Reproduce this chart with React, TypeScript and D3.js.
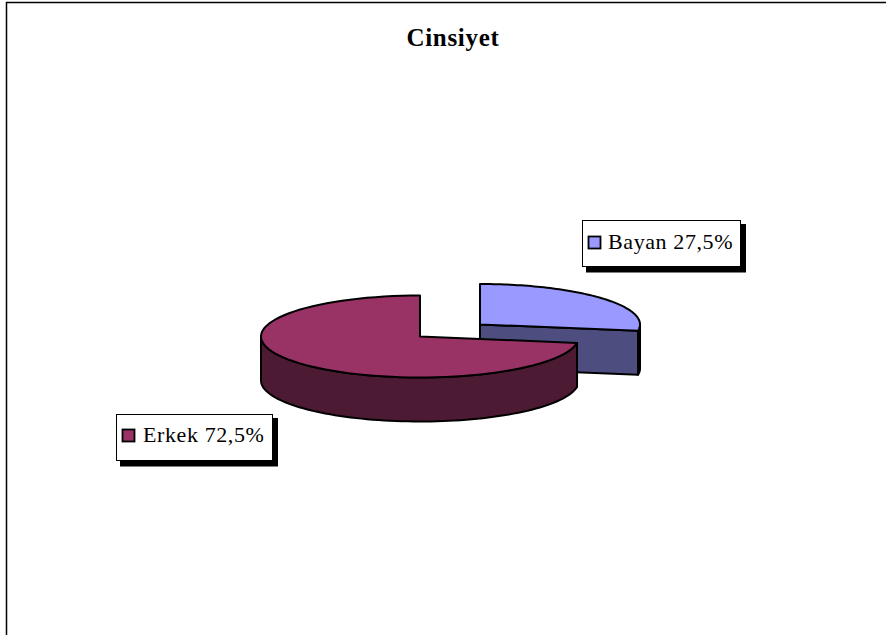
import React from "react";
import * as d3 from "d3";

const categories = ["Bayan", "Erkek"];
const shares = [27.5, 72.5];
const labels = ["Bayan 27,5%", "Erkek 72,5%"];
const topColors = ["#9999FF", "#993366"];
const sideColors = ["#4D4D80", "#4D1A33"];
const chartTitle = "Cinsiyet";

const W = 886;
const H = 635;
const DEPTH = 44;
const FONT = "'Liberation Serif', 'Times New Roman', serif";

const geometry = [
  { cx: 480, cy: 324.5, rx: 160, ry: 40.5 },
  { cx: 420, cy: 336.5, rx: 159, ry: 41 },
];
const boxes = [
  { x: 582, y: 220, w: 158, h: 46, sx: 588, sy: 236, tx: 608, ty: 249 },
  { x: 116, y: 414, w: 156, h: 46, sx: 122, sy: 429, tx: 143, ty: 442 },
];

const pie = d3
  .pie<number>()
  .sort(null)
  .startAngle(0)
  .endAngle(2 * Math.PI);
const arcs = pie(shares);

type G = { cx: number; cy: number; rx: number; ry: number };
const point = (g: G, a: number, dy = 0): [number, number] => [
  g.cx + g.rx * Math.sin(a),
  g.cy - g.ry * Math.cos(a) + dy,
];
const sweep = (g: G, a0: number, a1: number, dy = 0) =>
  d3.range(0, 81).map((i) => point(g, a0 + ((a1 - a0) * i) / 80, dy));
const line = d3.line<[number, number]>();

export default function App() {
  return (
    <svg
      width={W}
      height={H}
      viewBox={`0 0 ${W} ${H}`}
      style={{ position: "absolute", left: 0, top: 0, background: "#fff" }}
    >
      <path d={`M6.5,${H}V2.5H${W}`} fill="none" stroke="#000" strokeWidth={1.5} />
      <text
        x={453}
        y={46}
        textAnchor="middle"
        fontFamily={FONT}
        fontWeight="bold"
        fontSize={25}
        letterSpacing={0.7}
      >
        {chartTitle}
      </text>

      {arcs.map((d, i) => {
        const g = geometry[i];
        const a0 = d.startAngle;
        const a1 = d.endAngle;
        const wallStart = Math.max(a0, Math.PI / 2);
        const wallEnd = Math.min(a1, 1.5 * Math.PI);
        const wall = [
          ...sweep(g, wallStart, wallEnd),
          ...sweep(g, wallEnd, wallStart, DEPTH),
        ];
        const center: [number, number] = [g.cx, g.cy];
        const cutPoint = point(g, i === 0 ? a1 : a0);
        const cut: [number, number][] = [
          center,
          cutPoint,
          [cutPoint[0], cutPoint[1] + DEPTH],
          [g.cx, g.cy + DEPTH],
        ];
        const top = [center, ...sweep(g, a0, a1)];
        return (
          <g key={categories[i]} stroke="#000" strokeWidth={2} strokeLinejoin="round">
            {i === 0 && <path d={line(cut) + "Z"} fill={sideColors[i]} />}
            <path d={line(wall) + "Z"} fill={i === 0 ? "#000" : sideColors[i]} />
            <path d={line(top) + "Z"} fill={topColors[i]} />
          </g>
        );
      })}

      {boxes.map((b, i) => (
        <g key={labels[i]}>
          <rect x={b.x + 4} y={b.y + 4} width={b.w + 2} height={b.h + 2.5} fill="#000" />
          <rect
            x={b.x + 0.5}
            y={b.y + 0.5}
            width={b.w}
            height={b.h}
            fill="#fff"
            stroke="#000"
            strokeWidth={1}
          />
          <rect
            x={b.sx + 0.5}
            y={b.sy + 0.5}
            width={12}
            height={12}
            fill={topColors[i]}
            stroke="#000"
            strokeWidth={1.8}
          />
          <text x={b.tx} y={b.ty} fontFamily={FONT} fontSize={22} letterSpacing={0.6} fill="#000">
            {labels[i]}
          </text>
        </g>
      ))}
    </svg>
  );
}
